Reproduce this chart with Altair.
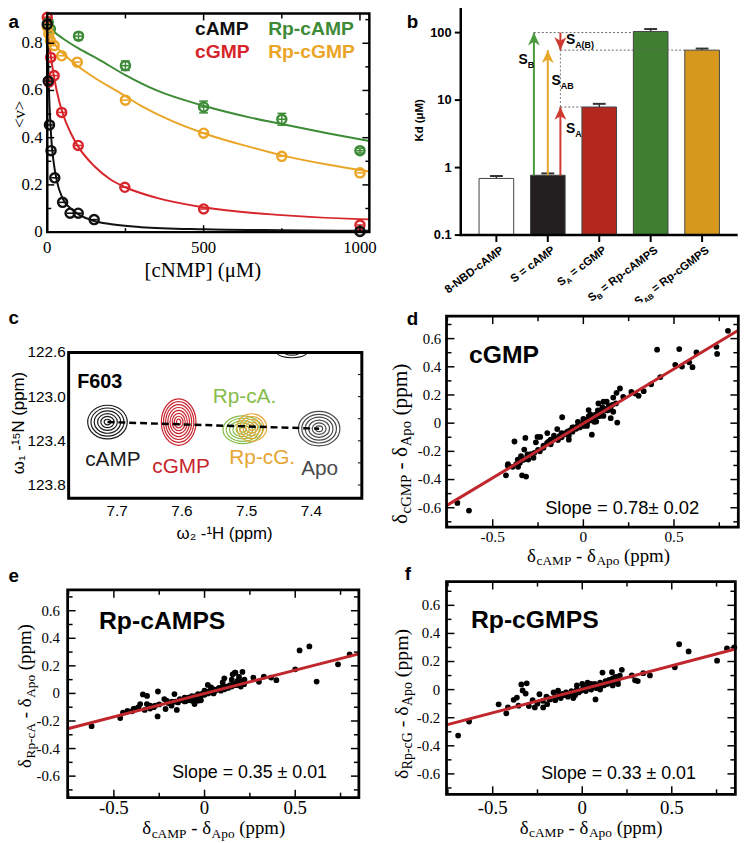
import math
import altair as alt
import pandas as pd

# ======================= DATA =======================
# ---- panel a : binding isotherms ----
a_camp_x = [0, 3, 7, 12, 24, 49, 73, 99, 150, 1000]
a_camp_y = [0.88, 0.64, 0.454, 0.345, 0.23, 0.126, 0.08, 0.08, 0.053, 0.003]
a_cgmp_x = [0, 5, 11, 22, 46, 99, 248, 500, 1000]
a_cgmp_y = [0.91, 0.635, 0.74, 0.663, 0.507, 0.367, 0.19, 0.098, 0.03]
a_rpcamp_x = [3, 10, 100, 250, 500, 750, 1000]
a_rpcamp_y = [0.89, 0.86, 0.83, 0.705, 0.53, 0.478, 0.345]
a_rpcamp_err = [0.01, 0.01, 0.015, 0.02, 0.025, 0.025, 0.01]
a_rpcgmp_x = [0, 5, 10, 22, 46, 96, 250, 500, 750, 1000]
a_rpcgmp_y = [0.87, 0.84, 0.81, 0.79, 0.747, 0.72, 0.559, 0.419, 0.321, 0.251]

a_fit_camp_x = [0, 3, 6, 10, 15, 20, 30, 50, 75, 100, 150, 200, 300, 500, 750, 1000, 1030]
a_fit_camp_y = [0.89, 0.72, 0.58, 0.46, 0.36, 0.30, 0.22, 0.14, 0.10, 0.075, 0.047, 0.034, 0.021, 0.012, 0.008, 0.006, 0.006]
a_fit_cgmp_x = [0, 5, 10, 20, 30, 50, 75, 100, 150, 200, 250, 350, 500, 750, 1000, 1030]
a_fit_cgmp_y = [0.88, 0.82, 0.76, 0.67, 0.6, 0.5, 0.42, 0.36, 0.28, 0.225, 0.19, 0.145, 0.105, 0.072, 0.055, 0.054]
a_fit_rpcamp_x = [0, 12, 50, 100, 160, 250, 350, 500, 650, 750, 900, 1030]
a_fit_rpcamp_y = [0.87, 0.858, 0.82, 0.778, 0.735, 0.665, 0.6, 0.535, 0.485, 0.458, 0.418, 0.386]
a_fit_rpcgmp_x = [0, 10, 33, 60, 96, 150, 222, 300, 400, 500, 650, 750, 900, 1030]
a_fit_rpcgmp_y = [0.87, 0.83, 0.78, 0.745, 0.705, 0.655, 0.598, 0.535, 0.47, 0.419, 0.36, 0.325, 0.285, 0.257]

a_ymaj = [0, 0.2, 0.4, 0.6, 0.8]
a_ymaj_lab = ["0", "0.2", "0.4", "0.6", "0.8"]
a_ymin = [0.1, 0.3, 0.5, 0.7, 0.9]
a_xmaj = [500, 1000]
a_xlab = [0, 500, 1000]
a_xlab_txt = ["0", "500", "1000"]
a_xmin = [250, 750]

# ---- panel b : Kd bars ----
b_cats = ["8-NBD-cAMP", "S = cAMP", "SA = cGMP", "SB = Rp-cAMPS", "SAB = Rp-cGMPS"]
b_kd = [0.69, 0.77, 7.9, 104, 55]
b_err = [0.06, 0.05, 0.9, 9, 3]
b_colors = ["#ffffff", "#231f20", "#b3281e", "#3e7f30", "#d6991d"]
b_yt = [0.1, 1, 10, 100]
b_yt_lab = ["0.1", "1", "10", "100"]
# arrows (x in category units, where 0..4 are bar centres)
b_arrow_x = [0.73, 1.0, 1.245, 1.245]
b_arrow_from = [0.77, 0.77, 0.77, 100]
b_arrow_to = [100, 55, 7.9, 55]
b_arrow_dir = ["up", "up", "up", "down"]
b_arrow_col = ["#4b9a3e", "#e6a72a", "#cc3a30", "#cc3a30"]
b_guide_y = [100, 55, 7.9]
b_guide_x0 = [0.73, 1.245, 1.245]
b_guide_x1 = [2.663, 3.663, 1.663]

# ---- panel c : HSQC cross-peaks ----
c_peaks = ["cAMP", "cGMP", "Rp-cA.", "Rp-cG.", "Apo"]
c_peak_h = [7.715, 7.605, 7.506, 7.492, 7.388]
c_peak_n = [123.23, 123.23, 123.30, 123.28, 123.29]
c_peak_levels = [6, 8, 6, 5, 6]
c_top_h = [7.43]
c_top_n = [122.6]
c_top_levels = 2
c_line_h = [7.715, 7.388]
c_line_n = [123.23, 123.29]
c_xt = [7.7, 7.6, 7.5, 7.4]
c_xt_lab = ["7.7", "7.6", "7.5", "7.4"]
c_yt = [122.6, 123.0, 123.4, 123.8]
c_yt_lab = ["122.6", "123.0", "123.4", "123.8"]
c_yminor = [122.8, 123.0, 123.2, 123.4, 123.6, 123.8]

# ---- panels d, e, f : chemical shift correlations ----
sc_xmaj = [-0.5, 0, 0.5]
sc_xmaj_lab = ["-0.5", "0", "0.5"]
sc_xmin = [-0.75, -0.25, 0.25, 0.75]
sc_ymaj = [-0.6, -0.4, -0.2, 0, 0.2, 0.4, 0.6]
sc_ymaj_lab = ["-0.6", "-0.4", "-0.2", "0", "0.2", "0.4", "0.6"]
sc_ymin = [-0.7, -0.5, -0.3, -0.1, 0.1, 0.3, 0.5, 0.7]

d_pts = [(-0.695, -0.566), (-0.631, -0.62), (-0.427, -0.37), (-0.416, -0.29), (-0.38, -0.13),
         (-0.338, -0.37), (-0.316, -0.379), (-0.32, -0.105), (-0.417, -0.3), (-0.362, -0.258),
         (-0.326, -0.187), (-0.308, -0.222), (-0.344, -0.234), (-0.275, -0.246), (-0.304, -0.258),
         (-0.262, -0.136), (-0.253, -0.098), (-0.238, -0.098), (-0.22, -0.175), (-0.199, -0.07),
         (-0.18, -0.117), (-0.162, -0.089), (-0.144, -0.042), (-0.117, 0.042), (-0.08, -0.117),
         (-0.086, -0.059), (-0.053, -0.035), (-0.016, -0.012), (0.02, 0.023), (0.047, -0.082),
         (0.029, 0.093), (0.083, 0.14), (0.111, 0.152), (0.147, 0.117), (0.151, 0.035),
         (0.187, 0.004), (0.202, 0.246), (0.183, 0.215), (0.071, 0.011), (0.165, 0.182),
         (0.22, 0.187), (0.265, 0.222), (0.287, 0.21), (0.305, 0.194), (0.333, 0.227),
         (0.374, 0.276), (0.425, 0.327), (0.407, 0.521), (0.529, 0.526), (0.507, 0.414),
         (0.544, 0.402), (0.584, 0.432), (0.602, 0.397), (0.624, 0.502), (0.734, 0.542),
         (0.738, 0.491), (0.798, 0.655), (0.129, 0.152), (0.105, 0.112), (0.138, 0.093),
         (0.165, 0.081), (0.111, 0.051), (0.065, 0.058),
         (-0.22, -0.16), (-0.2, -0.14), (-0.18, -0.15), (-0.17, -0.12), (-0.15, -0.11),
         (-0.14, -0.12), (-0.13, -0.09), (-0.12, -0.1), (-0.11, -0.08), (-0.1, -0.07),
         (-0.09, -0.08), (-0.08, -0.06), (-0.07, -0.05), (-0.06, -0.06), (-0.05, -0.03),
         (-0.04, -0.04), (-0.03, -0.02), (-0.02, -0.03), (-0.01, -0.01), (0.0, 0.0),
         (0.01, 0.01), (0.02, 0.0), (0.03, 0.03), (0.04, 0.02), (0.05, 0.05), (0.06, 0.04),
         (0.07, 0.06), (0.08, 0.05), (0.09, 0.08), (0.1, 0.07), (0.12, 0.1), (0.13, 0.09),
         (0.14, 0.12), (0.16, 0.13), (0.18, 0.14), (-0.35, -0.28), (-0.33, -0.26),
         (-0.31, -0.24), (-0.29, -0.22), (-0.27, -0.21), (-0.25, -0.19), (-0.24, -0.2),
         (-0.39, -0.31), (-0.37, -0.29), (-0.36, -0.31), (0.0, 0.03), (0.02, -0.02),
         (-0.03, 0.01), (0.04, 0.06), (0.06, 0.01), (0.11, 0.1), (0.0, -0.02), (-0.06, -0.03),
         (-0.08, -0.09), (0.03, 0.05), (0.09, 0.05), (0.15, 0.1), (0.08, 0.09), (-0.12, -0.07),
         (-0.19, -0.13)]
d_fit_x = [-0.755, 0.855]
d_fit_y = [-0.585, 0.66]

e_pts = [(-0.623, -0.238), (-0.465, -0.179), (-0.425, -0.127), (-0.391, -0.113), (-0.385, -0.11),
         (-0.364, -0.1), (-0.355, -0.077), (-0.318, -0.077), (-0.34, -0.007), (-0.317, -0.018),
         (-0.3, -0.089), (-0.273, -0.089), (-0.259, -0.167), (-0.257, 0.014), (-0.222, -0.041),
         (-0.215, -0.113), (-0.209, -0.053), (-0.182, -0.089), (-0.166, -0.005), (-0.153, -0.12),
         (-0.146, -0.065), (-0.136, -0.041), (-0.109, -0.058), (-0.1, -0.053), (-0.073, -0.041),
         (-0.055, -0.077), (-0.036, -0.053), (-0.036, -0.005), (0.018, 0.062), (0.036, 0.043),
         (0.109, 0.11), (0.127, 0.043), (0.155, 0.139), (0.167, 0.151), (0.209, 0.156),
         (0.182, 0.091), (0.218, 0.067), (0.269, 0.115), (0.3, 0.084), (0.327, 0.122),
         (0.367, 0.115), (0.396, 0.096), (0.5, 0.175), (0.524, 0.312), (0.578, 0.341),
         (0.618, 0.086), (0.736, 0.211), (0.8, 0.283),
         (-0.2, -0.07), (-0.18, -0.06), (-0.16, -0.06), (-0.14, -0.05), (-0.12, -0.05),
         (-0.11, -0.03), (-0.1, -0.04), (-0.09, -0.03), (-0.08, -0.05), (-0.07, -0.02),
         (-0.06, -0.03), (-0.05, -0.02), (-0.04, -0.04), (-0.03, -0.01), (-0.02, -0.02),
         (-0.01, 0.0), (0.0, -0.01), (0.01, 0.01), (0.02, 0.0), (0.03, 0.02), (0.04, 0.01),
         (0.05, 0.03), (0.06, 0.02), (0.07, 0.03), (0.08, 0.04), (0.09, 0.02), (0.1, 0.05),
         (0.11, 0.03), (0.12, 0.05), (0.13, 0.04), (0.14, 0.06), (0.15, 0.05), (0.16, 0.07),
         (0.17, 0.06), (0.18, 0.08), (0.19, 0.06), (0.2, 0.09), (0.21, 0.07), (0.22, 0.1),
         (-0.25, -0.08), (-0.28, -0.1), (-0.3, -0.11), (-0.33, -0.12), (-0.4, -0.13),
         (-0.45, -0.14), (0.0, 0.02), (-0.02, -0.05), (0.05, 0.0), (0.1, 0.08), (-0.06, -0.06),
         (0.2, 0.05), (0.15, 0.1), (0.17, 0.15), (0.19, 0.12)]
e_fit_x = [-0.755, 0.851]
e_fit_y = [-0.256, 0.287]

f_pts = [(-0.693, -0.327), (-0.632, -0.227), (-0.467, -0.105), (-0.424, -0.169), (-0.415, -0.127),
         (-0.383, -0.073), (-0.365, -0.057), (-0.34, 0.037), (-0.31, 0.045), (-0.333, -0.006),
         (-0.316, -0.028), (-0.356, -0.114), (-0.298, -0.117), (-0.277, -0.075), (-0.265, -0.127),
         (-0.239, -0.033), (-0.218, -0.127), (-0.196, -0.104), (-0.185, -0.063), (-0.151, -0.075),
         (-0.135, -0.007), (0.074, -0.07), (0.113, 0.121), (0.122, 0.035), (0.166, 0.124),
         (0.221, 0.141), (0.185, 0.089), (0.277, 0.101), (0.295, 0.066), (0.31, 0.061),
         (0.341, 0.117), (0.378, 0.101), (0.517, 0.159), (0.541, 0.323), (0.594, 0.272),
         (0.753, 0.206), (0.808, 0.293), (0.849, 0.3),
         (-0.15, -0.05), (-0.13, -0.04), (-0.12, -0.06), (-0.11, -0.03), (-0.1, -0.04),
         (-0.09, -0.02), (-0.08, -0.05), (-0.07, -0.03), (-0.06, -0.01), (-0.05, -0.03),
         (-0.04, -0.04), (-0.03, 0.0), (-0.02, -0.02), (-0.01, -0.01), (0.0, 0.0), (0.01, 0.02),
         (0.02, -0.01), (0.03, 0.01), (0.04, 0.03), (0.05, 0.0), (0.06, 0.02), (0.07, 0.04),
         (0.08, 0.01), (0.09, 0.03), (0.1, 0.05), (0.12, 0.03), (0.13, 0.06), (0.14, 0.04),
         (0.15, 0.07), (0.16, 0.05), (0.17, 0.08), (0.18, 0.06), (0.19, 0.09), (0.2, 0.07),
         (0.21, 0.1), (0.2, 0.04), (-0.18, -0.07), (-0.2, -0.05), (-0.22, -0.08), (-0.25, -0.1),
         (-0.16, -0.02), (0.0, 0.04), (0.03, 0.05), (-0.05, -0.06), (0.1, 0.0), (0.05, 0.04),
         (0.17, 0.03), (-0.03, 0.03)]
f_fit_x = [-0.758, 0.855]
f_fit_y = [-0.251, 0.289]

# ======================= HELPERS =======================
OFF = 8.0
SERIF = "Liberation Serif"
SANS = "Liberation Sans"
ONE = pd.DataFrame({"k": [0]})
layers = []


def px(v):
    return v - OFF


def add(ch):
    layers.append(ch)


def sc(domain, r0, r1):
    return alt.Scale(domain=domain, range=[px(r0), px(r1)], nice=False, zero=False)


def QX(f, s):
    return alt.X(f, type="quantitative", scale=s, axis=None)


def QY(f, s):
    return alt.Y(f, type="quantitative", scale=s, axis=None)


TIMES = {'δ': 0.5, 'c': 0.444, 'A': 0.722, 'M': 0.889, 'P': 0.556, 'G': 0.722, 'R': 0.667,
         'p': 0.5, '-': 0.333, 'o': 0.5, ' ': 0.25, '(': 0.333, ')': 0.333, 'm': 0.778}
HELVB = {'S': 0.667, ' ': 0.278, '=': 0.584, 'c': 0.556, 'A': 0.722, 'M': 0.833, 'P': 0.667,
         'G': 0.778, 'B': 0.722, 'R': 0.722, 'p': 0.611, '-': 0.333, '8': 0.556, 'N': 0.722,
         'D': 0.722, '(': 0.333, ')': 0.333}


def tw(t, size, table):
    return sum(table.get(ch, 0.55) for ch in t) * size


def rich(segs, x0, y0, angle=0, font=SERIF, weight="normal", anchor="center", table=TIMES, color="black"):
    th = math.radians(angle)
    ux, uy = math.cos(th), math.sin(th)
    vx, vy = -math.sin(th), math.cos(th)
    widths = [tw(t, s, table) for t, s, _ in segs]
    total = sum(widths)
    pos = {"start": 0.0, "center": -total / 2, "end": -total}[anchor]
    for (t, s, sh), w in zip(segs, widths):
        if t.strip():
            X = x0 + ux * pos + vx * sh
            Y = y0 + uy * pos + vy * sh
            add(alt.Chart(ONE).mark_text(text=t, align="left", baseline="alphabetic", font=font,
                                         fontSize=s, fontWeight=weight, angle=angle % 360,
                                         color=color).encode(x=alt.value(px(X)), y=alt.value(px(Y))))
        pos += w


def label(t, x, y, size, font=SANS, weight="normal", color="black", align="left", baseline="middle", angle=0):
    add(alt.Chart(ONE).mark_text(text=t, align=align, baseline=baseline, font=font, fontSize=size,
                                 fontWeight=weight, color=color, angle=angle % 360).encode(
        x=alt.value(px(x)), y=alt.value(px(y))))


def frame(l, r, t, b, sw=2.5):
    add(alt.Chart(ONE).mark_rect(fillOpacity=0, stroke="black", strokeWidth=sw).encode(
        x=alt.value(px(l)), x2=alt.value(px(r)), y=alt.value(px(t)), y2=alt.value(px(b))))


def yticks(vals, s, x_from, length, sw=1.5):
    df = pd.DataFrame({"v": vals})
    add(alt.Chart(df).mark_rule(color="black", strokeWidth=sw).encode(
        y=QY("v", s), x=alt.value(px(x_from)), x2=alt.value(px(x_from + length))))


def xticks(vals, s, y_from, length, sw=1.5):
    df = pd.DataFrame({"v": vals})
    add(alt.Chart(df).mark_rule(color="black", strokeWidth=sw).encode(
        x=QX("v", s), y=alt.value(px(y_from)), y2=alt.value(px(y_from + length))))


def ylabels(vals, labs, s, x, font, size, weight="normal", align="right"):
    df = pd.DataFrame({"v": vals, "t": labs})
    add(alt.Chart(df).mark_text(align=align, baseline="middle", font=font, fontSize=size,
                                fontWeight=weight, color="black").encode(
        y=QY("v", s), x=alt.value(px(x)), text="t:N"))


def xlabels(vals, labs, s, y, font, size, weight="normal"):
    df = pd.DataFrame({"v": vals, "t": labs})
    add(alt.Chart(df).mark_text(align="center", baseline="middle", font=font, fontSize=size,
                                fontWeight=weight, color="black").encode(
        x=QX("v", s), y=alt.value(px(y)), text="t:N"))


# ======================= PANEL a =======================
A_BLACK, A_RED, A_GREEN, A_ORANGE = "#111111", "#d7262b", "#3d8b37", "#eaa527"
ax = sc([0, 1030], 47.7, 373.3)
ay = sc([0, 0.926], 230, 9)
for fx, fy, col in [(a_fit_camp_x, a_fit_camp_y, A_BLACK), (a_fit_cgmp_x, a_fit_cgmp_y, A_RED),
                    (a_fit_rpcamp_x, a_fit_rpcamp_y, A_GREEN), (a_fit_rpcgmp_x, a_fit_rpcgmp_y, A_ORANGE)]:
    df = pd.DataFrame({"x": fx, "y": fy})
    add(alt.Chart(df).mark_line(color=col, strokeWidth=2, interpolate="monotone").encode(
        x=QX("x", ax), y=QY("y", ay)))

df_err = pd.DataFrame({"x": a_rpcamp_x, "y": a_rpcamp_y, "e": a_rpcamp_err})
df_err["lo"] = df_err["y"] - df_err["e"]
df_err["hi"] = df_err["y"] + df_err["e"]
add(alt.Chart(df_err).mark_rule(color=A_GREEN, strokeWidth=1.5).encode(
    x=QX("x", ax), y=QY("lo", ay), y2="hi:Q"))
for fld in ["lo", "hi"]:
    add(alt.Chart(df_err).mark_tick(color=A_GREEN, orient="horizontal", size=9, thickness=1.5, opacity=1).encode(
        x=QX("x", ax), y=QY(fld, ay)))

for px_, py_, col in [(a_rpcamp_x, a_rpcamp_y, A_GREEN), (a_rpcgmp_x, a_rpcgmp_y, A_ORANGE),
                      (a_cgmp_x, a_cgmp_y, A_RED), (a_camp_x, a_camp_y, A_BLACK)]:
    df = pd.DataFrame({"x": px_, "y": py_})
    add(alt.Chart(df).mark_point(filled=False, size=85, strokeWidth=2.4, color=col, opacity=1).encode(
        x=QX("x", ax), y=QY("y", ay)))
    add(alt.Chart(df).mark_tick(orient="horizontal", size=7, thickness=1.6, color=col, opacity=1).encode(
        x=QX("x", ax), y=QY("y", ay)))

frame(47.7, 373.3, 9, 230, 2.5)
yticks(a_ymaj, ay, 47.7, 7)
yticks(a_ymin, ay, 47.7, 4)
yticks(a_ymaj, ay, 373.3, -7)
yticks(a_ymin, ay, 373.3, -4)
xticks(a_xmaj, ax, 230, -7)
xticks(a_xmin, ax, 230, -4)
xticks(a_xmaj, ax, 9, 7)
xticks(a_xmin, ax, 9, 5)
ylabels(a_ymaj, a_ymaj_lab, ay, 43, SERIF, 17)
xlabels(a_xlab, a_xlab_txt, ax, 246.5, SERIF, 17)
label("[cNMP] (\u03bcM)", 205, 269, 21, font=SERIF, align="center")
label("<v>", 20, 111, 17, font=SERIF, align="center", angle=270)
label("cAMP", 197, 25, 19.5, weight="bold", color=A_BLACK)
label("cGMP", 197, 48, 19.5, weight="bold", color=A_RED)
label("Rp-cAMP", 271, 25, 19.5, weight="bold", color=A_GREEN)
label("Rp-cGMP", 271, 48, 19.5, weight="bold", color=A_ORANGE)
label("a", 8.5, 18, 19, weight="bold")

# ======================= PANEL b =======================
bx = alt.Scale(type="band", domain=b_cats, range=[px(465.7), px(745.7)], paddingInner=0.327, paddingOuter=0.356)
by = alt.Scale(type="log", domain=[0.1, 243], range=[px(233), px(2)], nice=False)
bq = sc([0, 4], 501.7, 709.7)
dfb = pd.DataFrame({"cat": b_cats, "kd": b_kd, "err": b_err})
dfb["base"] = 0.1
dfb["hi"] = dfb["kd"] + dfb["err"]
BXE = alt.X("cat:N", scale=bx, axis=None, sort=None)
add(alt.Chart(dfb).mark_rule(color="#333333", strokeWidth=1.5).encode(x=BXE, y=QY("kd", by), y2="hi:Q"))
add(alt.Chart(dfb).mark_tick(color="#333333", orient="horizontal", size=13, thickness=2, opacity=1).encode(
    x=BXE, y=QY("hi", by)))
add(alt.Chart(dfb).mark_bar(stroke="#444444", strokeWidth=1).encode(
    x=BXE, y=QY("kd", by), y2="base:Q",
    color=alt.Color("cat:N", scale=alt.Scale(domain=b_cats, range=b_colors), legend=None)))

dfg = pd.DataFrame({"y": b_guide_y, "x0": b_guide_x0, "x1": b_guide_x1})
add(alt.Chart(dfg).mark_rule(color="#666666", strokeWidth=1, strokeDash=[2, 2]).encode(
    x=QX("x0", bq), x2="x1:Q", y=QY("y", by)))
dfv = pd.DataFrame({"x": [b_guide_x0[2]], "y0": [b_guide_y[2]], "y1": [b_guide_y[1]]})
add(alt.Chart(dfv).mark_rule(color="#777777", strokeWidth=1, strokeDash=[2, 2]).encode(
    x=QX("x", bq), y=QY("y0", by), y2="y1:Q"))

UP = "M0,0L0.46,1L0,0.72L-0.46,1Z"
DOWN = "M0,0L0.46,-1L0,-0.72L-0.46,-1Z"
for xa, y0, y1, dr, col in zip(b_arrow_x, b_arrow_from, b_arrow_to, b_arrow_dir, b_arrow_col):
    dfa = pd.DataFrame({"x": [xa], "y0": [y0], "y1": [y1]})
    add(alt.Chart(dfa).mark_rule(color=col, strokeWidth=2).encode(x=QX("x", bq), y=QY("y0", by), y2="y1:Q"))
    add(alt.Chart(dfa).mark_point(shape=UP if dr == "up" else DOWN, filled=True, size=676, color=col,
                                  opacity=1, strokeWidth=0).encode(x=QX("x", bq), y=QY("y1", by)))

# axis lines, ticks, labels
add(alt.Chart(ONE).mark_rule(color="black", strokeWidth=2.5).encode(
    x=alt.value(px(465.7)), y=alt.value(px(0)), y2=alt.value(px(233))))
add(alt.Chart(ONE).mark_rule(color="black", strokeWidth=2.5).encode(
    x=alt.value(px(464.5)), x2=alt.value(px(745.7)), y=alt.value(px(233))))
yticks(b_yt, by, 465.7, -6, sw=2)
add(alt.Chart(dfb).mark_rule(color="black", strokeWidth=2).encode(
    x=BXE, y=alt.value(px(233)), y2=alt.value(px(240))))
ylabels(b_yt, b_yt_lab, by, 456.5, SANS, 13, weight="bold")
label("Kd (\u03bcM)", 425, 117, 11.5, weight="bold", align="center", angle=270)

# S labels on arrows
rich([("S", 14, 0), ("B", 9, 4)], 524, 60, font=SANS, weight="bold", anchor="start", table=HELVB)
rich([("S", 14, 0), ("AB", 9, 4)], 557.5, 81.5, font=SANS, weight="bold", anchor="start", table=HELVB)
rich([("S", 14, 0), ("A", 9, 4)], 572, 130, font=SANS, weight="bold", anchor="start", table=HELVB)
rich([("S", 14, 0), ("A(B)", 9, 4)], 572, 40, font=SANS, weight="bold", anchor="start", table=HELVB)

# rotated category labels with subscripts
LF = 11.5
b_label_segs = [
    [("8-NBD-cAMP", LF, 0)],
    [("S = cAMP", LF, 0)],
    [("S", LF, 0), ("A", 7.5, 3), (" ", LF, 0), ("= cGMP", LF, 0)],
    [("S", LF, 0), ("B", 7.5, 3), (" ", LF, 0), ("= Rp-cAMPS", LF, 0)],
    [("S", LF, 0), ("AB", 7.5, 3), (" ", LF, 0), ("= Rp-cGMPS", LF, 0)],
]
ANG = -37
th = math.radians(ANG)
ux, vx = math.cos(th), -math.sin(th)
for cat, segs in zip(b_cats, b_label_segs):
    widths = [tw(t, s, HELVB) for t, s, _ in segs]
    pos = -sum(widths)
    du0 = 3 * ux
    dv0 = 3 * vx + 0.72 * LF
    dfc = pd.DataFrame({"cat": [cat]})
    for (t, s, sh), w in zip(segs, widths):
        if t.strip():
            add(alt.Chart(dfc).mark_text(text=t, align="left", baseline="alphabetic", font=SANS, fontSize=s,
                                         fontWeight="bold", angle=ANG % 360, dx=du0 + pos, dy=dv0 + sh,
                                         color="black").encode(x=BXE, y=alt.value(px(243))))
        pos += w
# the reference figure is cropped just below the labels
add(alt.Chart(ONE).mark_rect(color="white").encode(
    x=alt.value(px(378)), x2=alt.value(px(748)), y=alt.value(px(301)), y2=alt.value(px(350))))
label("b", 411, 18, 19, weight="bold")

# ======================= PANEL c =======================
cx = alt.Scale(domain=[7.322, 7.775], range=[px(365.7), px(69.3)], nice=False, zero=False)
cy = sc([122.6, 123.92], 351.7, 499)
c_style = [  # colour, half-width px, aspect a, aspect b
    ("#1a1a1a", 20, 1.0, 0.85),
    ("#c8242e", 23.5, 0.745, 1.0),
    ("#86bc4a", 20, 1.0, 0.7),
    ("#e6a532", 15, 1.0, 0.93),
    ("#4a4a4a", 21, 1.0, 0.83),
]
for i, peak in enumerate(c_peaks):
    col, R, a_, b_ = c_style[i]
    n = c_peak_levels[i]
    dfp = pd.DataFrame({"h": [c_peak_h[i]] * n, "nn": [c_peak_n[i]] * n, "lev": list(range(1, n + 1))})
    path = f"M{-a_},0A{a_},{b_},0,1,1,{a_},0A{a_},{b_},0,1,1,{-a_},0Z"
    add(alt.Chart(dfp).mark_point(shape=path, filled=False, strokeWidth=1.2, color=col, opacity=1).encode(
        x=QX("h", cx), y=QY("nn", cy),
        size=alt.Size("lev:Q", scale=alt.Scale(type="pow", exponent=2, domain=[0, n], range=[0, (2 * R) ** 2]),
                      legend=None)))
dft = pd.DataFrame({"h": c_top_h * c_top_levels, "nn": c_top_n * c_top_levels,
                    "lev": list(range(1, c_top_levels + 1))})
add(alt.Chart(dft).mark_point(shape="M-1,0A1,0.35,0,0,0,1,0", filled=False, strokeWidth=1.1,
                              color="#1a1a1a", opacity=1).encode(
    x=QX("h", cx), y=QY("nn", cy),
    size=alt.Size("lev:Q", scale=alt.Scale(type="pow", exponent=2, domain=[0, c_top_levels], range=[0, 900]),
                  legend=None)))
dfl = pd.DataFrame({"h": c_line_h, "nn": c_line_n})
add(alt.Chart(dfl).mark_line(color="black", strokeWidth=2.5, strokeDash=[7, 4]).encode(
    x=QX("h", cx), y=QY("nn", cy)))
frame(69.3, 365.7, 351.7, 499, 3)
yticks(c_yminor, cy, 365.7, -4, sw=1)
ylabels(c_yt, c_yt_lab, cy, 66.5, SANS, 15.5)
xlabels(c_xt, c_xt_lab, cx, 512, SANS, 15.5)
label("\u03c9\u2082 -\u00b9H  (ppm)", 227, 535, 17, align="center")
label("\u03c9\u2081 -\u00b9\u2075N  (ppm)", 19, 423, 17, align="center", angle=270)
label("F603", 78, 382, 20, weight="bold")
label("cAMP", 114, 460, 21, color="#1a1a1a", align="center")
label("cGMP", 183, 468, 21, color="#c8242e", align="center")
label("Rp-cA.", 247, 397, 21, color="#86bc4a", align="center")
label("Rp-cG.", 265, 458, 21, color="#e6a532", align="center")
label("Apo", 323, 470, 21, color="#4a4a4a", align="center")
label("c", 8.5, 317, 19, weight="bold")

# ======================= PANELS d, e, f =======================
RED_LINE = "#c0272d"


def scatter_panel(pts, fit_x, fit_y, xdom, l, r, ydom, b, t, ylab_x, xlab_y, xlab_size, ylab_size):
    xs = sc(xdom, l, r)
    ys = sc(ydom, b, t)
    dfs = pd.DataFrame(pts, columns=["x", "y"])
    add(alt.Chart(dfs).mark_circle(size=34, color="black", opacity=1).encode(x=QX("x", xs), y=QY("y", ys)))
    dff = pd.DataFrame({"x": fit_x, "y": fit_y})
    add(alt.Chart(dff).mark_line(color=RED_LINE, strokeWidth=3).encode(x=QX("x", xs), y=QY("y", ys)))
    frame(l, r, t, b, 2.8)
    yticks(sc_ymaj, ys, l, 8)
    yticks(sc_ymin, ys, l, 5)
    yticks(sc_ymaj, ys, r, -8)
    yticks(sc_ymin, ys, r, -5)
    xticks(sc_xmaj, xs, b, -8)
    xticks(sc_xmin, xs, b, -5)
    xticks(sc_xmaj, xs, t, 8)
    xticks(sc_xmin, xs, t, 5)
    ylabels(sc_ymaj, sc_ymaj_lab, ys, ylab_x, SERIF, ylab_size)
    xlabels(sc_xmaj, sc_xmaj_lab, xs, xlab_y, SERIF, xlab_size)


def delta_title(sub, x0, y0, M, m, angle, anchor="center"):
    shift = 0.2 * M
    segs = [("δ", M, 0), (sub, m, shift), (" ", M, 0), ("-", M, 0), (" ", M, 0), ("δ", M, 0),
            ("Apo", m, shift), (" ", M, 0), ("(ppm)", M, 0)]
    rich(segs, x0, y0, angle=angle, font=SERIF, anchor=anchor)


# d
scatter_panel(d_pts, d_fit_x, d_fit_y, [-0.755, 0.855], 451.3, 746.3, [-0.738, 0.759], 528.3, 315,
              446, 538, 15.5, 15)
label("cGMP", 474, 354, 25, weight="bold")
label("Slope = 0.78\u00b1 0.02", 551, 509, 18.5)
delta_title("cGMP", 411.5, 444, 21.5, 15, 270)
delta_title("cAMP", 605, 563, 19, 13.5, 0)
label("d", 411, 318, 19, weight="bold")

# e
scatter_panel(e_pts, e_fit_x, e_fit_y, [-0.755, 0.851], 68.3, 362.7, [-0.756, 0.751], 801.7, 591.7,
              60.5, 812, 19, 15)
label("Rp-cAMPS", 100, 623, 25, weight="bold")
label("Slope = 0.35 \u00b1 0.01", 174, 777, 18)
delta_title("Rp-cA", 31, 699, 19, 13.5, 270)
delta_title("cAMP", 216, 838.5, 19, 13.5, 0)
label("e", 8.5, 578, 19, weight="bold")

# f
scatter_panel(f_pts, f_fit_x, f_fit_y, [-0.758, 0.855], 451.3, 743.3, [-0.745, 0.769], 798.3, 583.3,
              445, 812, 19, 15)
label("Rp-cGMPS", 476, 622, 25, weight="bold")
label("Slope = 0.33 \u00b1 0.01", 547, 778, 18)
delta_title("Rp-cG", 412.5, 707, 20, 14, 270)
delta_title("cAMP", 597.5, 838, 19, 13.5, 0)
label("f", 409, 576, 19, weight="bold")

# ======================= CHART =======================
chart = alt.layer(*layers).resolve_scale(
    x="independent", y="independent", color="independent", size="independent"
).properties(
    width=740, height=835, padding=0, autosize=alt.AutoSizeParams(type="none")
).configure_view(stroke=None)

chart.save("out.html", embed_options={"renderer": "svg", "actions": False})
